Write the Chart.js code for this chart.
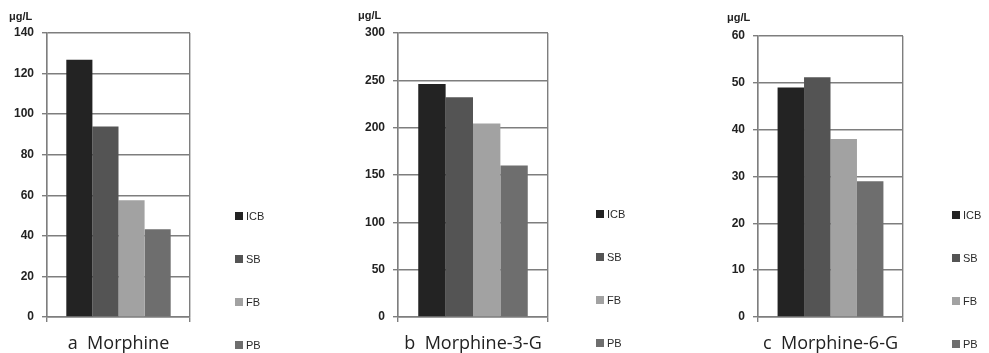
<!DOCTYPE html>
<html>
<head>
<meta charset="utf-8">
<script src="https://cdn.jsdelivr.net/npm/chart.js@4.4.1/dist/chart.umd.min.js"></script>
<style>
html, body { margin: 0; padding: 0; background: #fff; }
#wrap { position: relative; width: 989px; height: 353px; overflow: hidden; }
#wrap canvas { position: absolute; top: 0; }
</style>
</head>
<body>
<div id="wrap">
    <canvas id="chartA" width="330" height="353" style="left:0"></canvas>
    <canvas id="chartB" width="330" height="353" style="left:330px"></canvas>
    <canvas id="chartC" width="329" height="353" style="left:660px"></canvas>
</div>
<script>
// 데이터
const seriesNames = ['ICB', 'SB', 'FB', 'PB'];

const categoryA = ['a  Morphine'];
const valuesA = [126.8, 93.9, 57.6, 43.3];
const yMaxA = 140, yStepA = 20;

const categoryB = ['b  Morphine-3-G'];
const valuesB = [246, 232, 204.5, 160];
const yMaxB = 300, yStepB = 50;

const categoryC = ['c  Morphine-6-G'];
const valuesC = [49, 51.2, 38, 29];
const yMaxC = 60, yStepC = 10;

const unitLabel = 'μg/L';

// 스타일
const barColors = ['#232323', '#545454', '#a2a2a2', '#6e6e6e'];
const lineColor = '#7e7e7e';
const textColor = '#222';

// 단위 + 범례 그리기
const panelDecor = {
    id: 'panelDecor',
    afterDraw(chart, args, opts) {
        const ctx = chart.ctx;
        ctx.save();
        ctx.textBaseline = 'middle';
        ctx.textAlign = 'left';
        ctx.fillStyle = textColor;
        ctx.font = 'bold 11px "Liberation Sans", Arial, sans-serif';
        ctx.fillText(unitLabel, opts.unitX, opts.unitY);

        ctx.font = '11px "Liberation Sans", Arial, sans-serif';
        chart.data.datasets.forEach((ds, i) => {
            const y = opts.legendTop + i * 43;
            ctx.fillStyle = ds.backgroundColor;
            ctx.fillRect(opts.legendX, y - 4, 8, 8);
            ctx.fillStyle = '#2a2a2a';
            ctx.fillText(ds.label, opts.legendX + 11, y + 0.5);
        });
        ctx.restore();
    }
};

function makePanel(canvasId, category, values, yMax, yStep, box) {
    const datasets = seriesNames.map((name, i) => ({
        label: name,
        data: [values[i]],
        backgroundColor: barColors[i],
        borderWidth: 0,
        categoryPercentage: 0.73,
        barPercentage: 1.0
    }));

    return new Chart(document.getElementById(canvasId), {
        type: 'bar',
        data: { labels: category, datasets: datasets },
        options: {
            responsive: false,
            animation: false,
            layout: { padding: { left: 0, right: box.padRight, top: box.top, bottom: 0 } },
            plugins: {
                legend: { display: false },
                tooltip: { enabled: false },
                panelDecor: box.decor
            },
            scales: {
                x: {
                    grid: { display: true, offset: true, color: lineColor, lineWidth: 1.4, tickLength: 5 },
                    border: { display: true, color: lineColor, width: 1.4 },
                    ticks: {
                        color: textColor,
                        font: { family: '"Open Sans", sans-serif', size: 18 },
                        padding: 11,
                        maxRotation: 0,
                        labelOffset: box.labelOffset || 0
                    },
                    afterFit: s => { s.height = 353 - box.bottom; }
                },
                y: {
                    min: 0,
                    max: yMax,
                    grid: { color: lineColor, lineWidth: 1.4, tickLength: 5 },
                    border: { display: true, color: lineColor, width: 1.4 },
                    ticks: {
                        stepSize: yStep,
                        color: textColor,
                        padding: 8,
                        font: { family: '"Liberation Sans", Arial, sans-serif', size: 12, weight: 'bold' }
                    },
                    afterFit: s => { s.width = box.left; }
                }
            }
        },
        plugins: [panelDecor]
    });
}

makePanel('chartA', categoryA, valuesA, yMaxA, yStepA, {
    left: 47, padRight: 140, top: 33, bottom: 317,
    decor: { unitX: 9, unitY: 17, legendX: 235, legendTop: 216 }
});
makePanel('chartB', categoryB, valuesB, yMaxB, yStepB, {
    left: 68, padRight: 112, top: 33, bottom: 317,
    decor: { unitX: 28, unitY: 16, legendX: 266, legendTop: 214 }
});
makePanel('chartC', categoryC, valuesC, yMaxC, yStepC, {
    left: 98, padRight: 86, top: 36, bottom: 317,
    decor: { unitX: 67, unitY: 18, legendX: 292, legendTop: 215 }
});
</script>
</body>
</html>
